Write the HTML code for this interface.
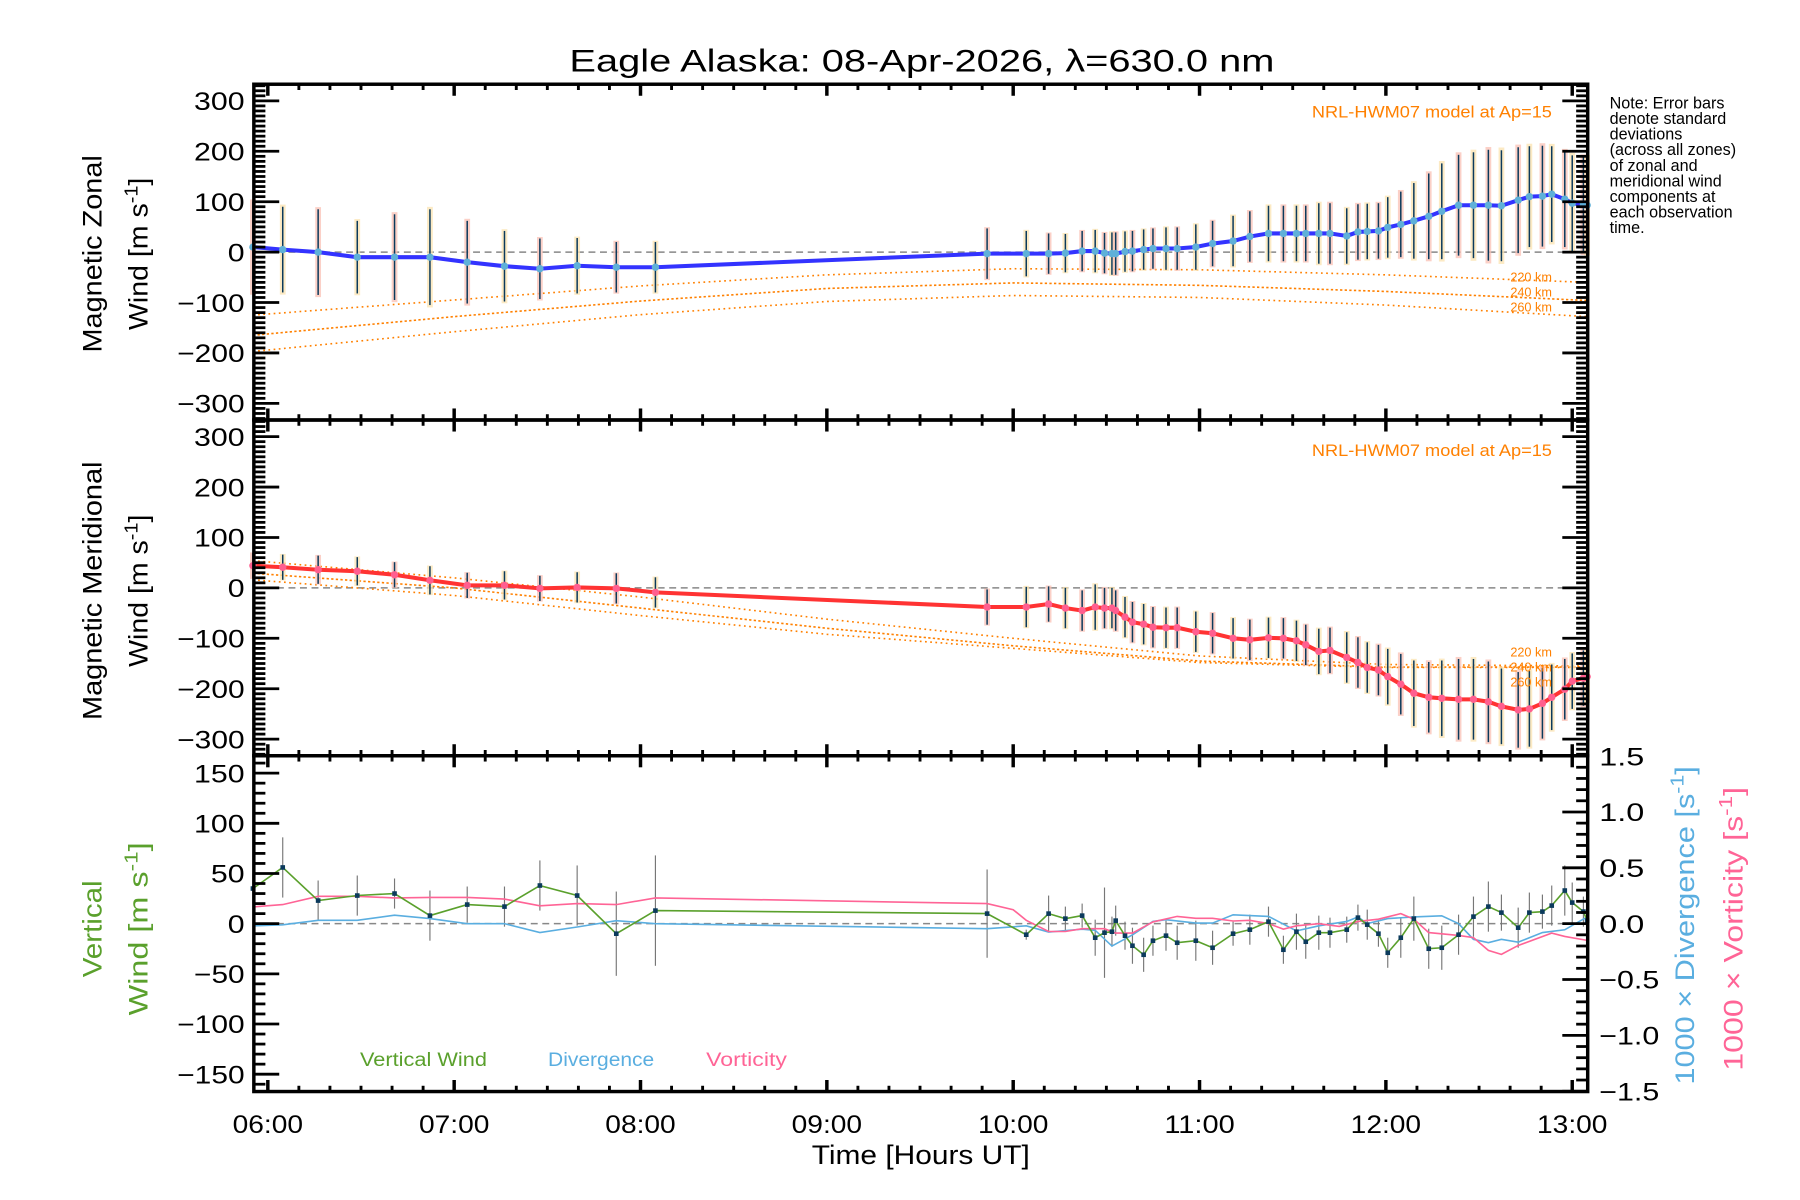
<!DOCTYPE html>
<html><head><meta charset="utf-8"><style>
html,body{margin:0;padding:0;background:#fff;}
svg{display:block;}
text{font-family:"Liberation Sans",sans-serif;}
</style></head><body>
<svg id="chart" width="1800" height="1200" viewBox="0 0 1560 1040" xmlns="http://www.w3.org/2000/svg">
<rect x="0" y="0" width="1560" height="1040" fill="#fff"/>
<text x="799" y="62" font-size="27" text-anchor="middle" textLength="611" lengthAdjust="spacingAndGlyphs">Eagle Alaska: 08-Apr-2026, λ=630.0 nm</text>
<g id="g"></g>
<text font-size="14" x="1395" y="94"><tspan x="1395" dy="0">Note: Error bars</tspan><tspan x="1395" dy="13.5">denote standard</tspan><tspan x="1395" dy="13.5">deviations</tspan><tspan x="1395" dy="13.5">(across all zones)</tspan><tspan x="1395" dy="13.5">of zonal and</tspan><tspan x="1395" dy="13.5">meridional wind</tspan><tspan x="1395" dy="13.5">components at</tspan><tspan x="1395" dy="13.5">each observation</tspan><tspan x="1395" dy="13.5">time.</tspan></text>
</svg>
<script>
// ---- data ----
const times = [5.92,6.08,6.27,6.48,6.68,6.87,7.07,7.27,7.46,7.66,7.87,8.08,9.86,
10.07,10.19,10.28,10.37,10.44,10.49,10.53,10.55,10.60,10.64,10.70,10.75,10.82,10.88,10.98,11.07,11.18,11.27,11.37,11.45,11.52,11.57,11.64,11.70,11.79,11.85,11.90,11.96,12.01,12.08,12.15,12.23,12.30,12.39,12.47,12.55,12.62,12.71,12.77,12.84,12.89,12.96,13.00,13.06,13.08];
const zonal = [10,5,0,-10,-10,-10,-20,-28,-33,-27,-30,-30,-3,
-3,-3,-2,2,2,-2,-3,-3,1,2,5,7,7,7,10,17,22,31,37,37,37,37,37,37,32,40,41,42,49,55,62,71,81,93,93,93,92,103,110,111,115,105,97,94,93];
const zonalSd = [90,85,85,72,85,95,82,70,60,55,50,50,50,
45,40,38,40,42,40,42,42,40,40,40,40,42,42,45,45,50,50,55,55,55,55,60,60,55,55,55,55,60,65,75,85,95,100,105,110,110,105,100,100,95,95,95,95,95];
const merid = [44,41,36,33,26,15,5,5,-1,1,-1,-9,-38,
-38,-32,-40,-45,-38,-40,-40,-45,-58,-68,-72,-78,-79,-79,-87,-90,-100,-103,-99,-100,-105,-113,-126,-124,-138,-148,-158,-163,-176,-191,-209,-217,-219,-221,-221,-226,-235,-242,-240,-229,-217,-201,-185,-179,-176];
const meridSd = [25,25,28,28,25,28,25,28,25,30,30,30,35,
40,35,40,40,45,40,40,40,40,40,40,40,40,40,40,40,40,40,40,40,40,40,45,45,50,50,50,50,55,60,65,70,75,80,80,80,75,75,75,70,65,60,55,55,50];
const vert = [35,56,23,28,30,8,19,17,38,28,-10,13,10,
-11,10,5,8,-14,-9,-8,3,-12,-22,-31,-17,-12,-19,-17,-24,-10,-6,2,-26,-8,-18,-9,-9,-6,6,-1,-10,-29,-14,5,-25,-24,-11,7,17,11,-4,11,12,18,33,21,12,3];
const vertSd = [15,30,20,20,15,25,18,20,25,30,42,55,44,
5,18,12,12,18,45,15,15,14,18,17,15,15,17,20,17,12,15,15,14,18,17,17,15,13,13,15,13,15,20,22,20,22,20,20,25,18,20,20,17,20,25,20,15,12];
const divT = [5.92,6.08,6.27,6.48,6.68,6.87,7.07,7.27,7.46,7.66,7.87,8.08,9.86,10.07,10.19,10.37,10.44,10.53,10.64,10.75,10.82,10.98,11.07,11.18,11.37,11.52,11.64,11.79,11.85,11.90,12.01,12.15,12.30,12.39,12.47,12.55,12.62,12.71,12.84,12.96,13.08];
const divV = [-0.02,-0.01,0.03,0.03,0.075,0.045,0,0,-0.08,-0.03,0.027,0,-0.045,-0.02,-0.075,-0.05,-0.06,-0.2,-0.1,0.02,0.035,0.005,0.005,0.08,0.065,-0.065,-0.02,0.02,0.06,0,0.045,0.06,0.07,0,-0.14,-0.17,-0.14,-0.165,-0.08,-0.055,0.06];
const vorT = [5.92,6.08,6.27,6.48,6.68,6.87,7.07,7.27,7.46,7.66,7.87,8.08,9.86,10.0,10.07,10.19,10.28,10.37,10.49,10.55,10.64,10.75,10.88,10.98,11.07,11.18,11.27,11.37,11.45,11.52,11.64,11.75,11.85,11.96,12.08,12.15,12.23,12.39,12.47,12.55,12.62,12.71,12.89,12.96,13.08];
const vorV = [0.15,0.17,0.245,0.245,0.23,0.235,0.235,0.22,0.16,0.18,0.17,0.23,0.18,0.125,0.03,-0.07,-0.07,-0.045,-0.045,-0.085,-0.085,0.015,0.065,0.048,0.048,0.024,0.03,0,-0.05,-0.02,0,-0.025,0.02,0.04,0.09,0.04,-0.08,-0.105,-0.125,-0.24,-0.275,-0.195,-0.085,-0.115,-0.15];
const modelT = [5.92,7,8,9,10,11,12,13.08];
const zon220 = [-125,-95,-67,-45,-33,-35,-45,-60];
const zon240 = [-165,-128,-97,-72,-61,-66,-78,-96];
const zon260 = [-197,-158,-124,-98,-86,-90,-105,-128];
const mer220 = [54,20,-18,-62,-100,-135,-152,-155];
const mer240 = [29,0,-40,-80,-115,-145,-157,-157];
const mer260 = [16,-15,-55,-92,-120,-148,-158,-158];
const xTicks = ['06:00','07:00','08:00','09:00','10:00','11:00','12:00','13:00'];
const windTicks = [300,200,100,0,-100,-200,-300];
const vertTicks = [150,100,50,0,-50,-100,-150];
const rightTicks = ['1.5','1.0','0.5','0.0','-0.5','-1.0','-1.5'];

// ---- layout ----
const NS='http://www.w3.org/2000/svg';
const G=document.getElementById('g');
const X0=220,X1=1376,T0=5.925,T1=13.083;
const P=[{top:73,bot:364},{top:364,bot:655},{top:655,bot:946}];
function x(t){return X0+(t-T0)/(T1-T0)*(X1-X0);}
function mkY(p,half){const mid=(p.top+p.bot)/2,h=(p.bot-p.top)/2;return v=>mid-v/half*h;}
const yZ=mkY(P[0],333),yM=mkY(P[1],333),yV=mkY(P[2],167.3),yR=mkY(P[2],1.503);
function el(tag,attrs,parent){const e=document.createElementNS(NS,tag);for(const k in attrs)e.setAttribute(k,attrs[k]);(parent||G).appendChild(e);return e;}
function txt(s,attrs,parent){const e=el('text',attrs,parent);e.textContent=s;return e;}
function poly(ts,vs,yf,attrs){return el('polyline',Object.assign({points:ts.map((t,i)=>x(t).toFixed(1)+','+yf(vs[i]).toFixed(1)).join(' '),fill:'none'},attrs));}
const numLabel=s=>s.replace('-','−');

// zero dashed lines
[[yZ,0],[yM,1],[yV,2]].forEach(([yf,i])=>{
  const l=el('line',{x1:X0,x2:X1,y1:yf(0),y2:yf(0),stroke:'#888','stroke-width':1.3,'stroke-dasharray':'6,4'});
  
  
});

// model lines
function model(vals,yf,name,dash){
  const l=poly(modelT,vals,yf,{stroke:'#ff8000','stroke-width':1.4,'stroke-dasharray':dash});
  
  
}
model(zon220,yZ,'zonal-model-220km','1.5,3');model(zon240,yZ,'zonal-model-240km','2,2');model(zon260,yZ,'zonal-model-260km','1.5,3');
model(mer220,yM,'merid-model-220km','1.5,3');model(mer240,yM,'merid-model-240km','2,2');model(mer260,yM,'merid-model-260km','1.5,3');

// wind panels
function windPanel(vals,sd,yf,line,dot,name){
  times.forEach((t,i)=>{
    const xc=x(t);
    const bg=el('rect',{x:xc-2.5,y:yf(vals[i]+sd[i]*1.05),width:5,height:yf(vals[i]-sd[i]*1.05)-yf(vals[i]+sd[i]*1.05),fill:i%2?'#fbe3b0':'#f9c0b4',opacity:0.75});
    
    
    const e=el('line',{x1:xc,x2:xc,y1:yf(vals[i]+sd[i]),y2:yf(vals[i]-sd[i]),stroke:'#0b3a5c','stroke-width':1.3});
    
    
  });
  const l=poly(times,vals,yf,{stroke:line,'stroke-width':3.5});
  
  
  times.forEach((t,i)=>{
    const c=el('circle',{cx:x(t),cy:yf(vals[i]),r:3.2,fill:dot});
    
    
  });
}
windPanel(zonal,zonalSd,yZ,'#3333ff','#5fb0d8','zonal');
windPanel(merid,meridSd,yM,'#ff3333','#ff5f8f','merid');

// bottom panel
times.forEach((t,i)=>{
  const e=el('line',{x1:x(t),x2:x(t),y1:yV(vert[i]+vertSd[i]),y2:yV(vert[i]-vertSd[i]),stroke:'#777','stroke-width':1});
  
  
});
let l=poly(divT,divV,yR,{stroke:'#5aaee0','stroke-width':1.4});


l=poly(vorT,vorV,yR,{stroke:'#ff6496','stroke-width':1.4});


l=poly(times,vert,yV,{stroke:'#5aa02c','stroke-width':1.4});


times.forEach((t,i)=>{
  const r=el('rect',{x:x(t)-2,y:yV(vert[i])-2,width:4,height:4,fill:'#0b3a5c'});
  
  
});

// frames and ticks
P.forEach((p,pi)=>{
  const f=el('rect',{x:X0,y:p.top,width:X1-X0,height:p.bot-p.top,fill:'none',stroke:'#000','stroke-width':3});
  
  
  for(let m=0;m<=42;m++){
    const t=6+m/6;if(t>T1)break;
    const len=m%6===0?10:5;
    el('line',{x1:x(t),x2:x(t),y1:p.bot,y2:p.bot-len,stroke:'#000','stroke-width':m%6===0?3:2.5});
    el('line',{x1:x(t),x2:x(t),y1:p.top,y2:p.top+len,stroke:'#000','stroke-width':m%6===0?3:2.5});
  }
});
function yTicks(yf,lo,hi,step,majorEvery,majLen,minLen,side,p){
  for(let v=lo;v<=hi+1e-9;v+=step){
    const yy=yf(v);if(yy<p.top-0.5||yy>p.bot+0.5)continue;
    const maj=Math.abs(Math.round(v/majorEvery)*majorEvery-v)<1e-6;
    const len=maj?majLen:minLen;
    if(side==='L'||side==='B')el('line',{x1:X0,x2:X0+len,y1:yy,y2:yy,stroke:'#000','stroke-width':2.4});
    if(side==='R'||side==='B')el('line',{x1:X1,x2:X1-len,y1:yy,y2:yy,stroke:'#000','stroke-width':2.4});
  }
}
yTicks(yZ,-330,330,10,100,22,10,'B',P[0]);
yTicks(yM,-330,330,10,100,22,10,'B',P[1]);
yTicks(yV,-160,160,10,50,22,10,'L',P[2]);
yTicks(yR,-1.5,1.5,0.1,0.5,22,10,'R',P[2]);

// tick labels
windTicks.forEach(v=>{
  [yZ,yM].forEach((yf,i)=>{
    const s=numLabel(String(v));
    const t=txt(s,{x:212,y:yf(v)+8,'font-size':22,'text-anchor':'end',textLength:s.length*14.6,lengthAdjust:'spacingAndGlyphs'});
    
    
  });
});
vertTicks.forEach(v=>{
  const s=numLabel(String(v));
  const t=txt(s,{x:212,y:yV(v)+8,'font-size':22,'text-anchor':'end',textLength:s.length*14.6,lengthAdjust:'spacingAndGlyphs'});
  
  
});
rightTicks.forEach(s=>{
  const v=parseFloat(s);s=numLabel(s);
  const t=txt(s,{x:1386,y:yR(v)+8,'font-size':22,textLength:s.length*13,lengthAdjust:'spacingAndGlyphs'});
  
  
});
xTicks.forEach((s,i)=>{
  const t=txt(s,{x:x(6+i),y:982,'font-size':22,'text-anchor':'middle',textLength:61,lengthAdjust:'spacingAndGlyphs'});
  
  
});

// axis titles
function vtitle(s,cx,cy,len,color,name){
  const t=el('text',{transform:'translate('+cx+','+cy+') rotate(-90)','font-size':23,'text-anchor':'middle',fill:color,textLength:len,lengthAdjust:'spacingAndGlyphs'});
  t.innerHTML=s;
  
  
}
vtitle('Magnetic Zonal',88,220,171,'#000','zonal-y-title-line1');
vtitle('Wind [m s<tspan dy="-9" font-size="16">-1</tspan><tspan dy="9">]</tspan>',128,220,132,'#000','zonal-y-title-line2');
vtitle('Magnetic Meridional',88,512,224,'#000','merid-y-title-line1');
vtitle('Wind [m s<tspan dy="-9" font-size="16">-1</tspan><tspan dy="9">]</tspan>',128,512,132,'#000','merid-y-title-line2');
vtitle('Vertical',88,805,84,'#5aa02c','vertical-y-title-line1');
vtitle('Wind [m s<tspan dy="-9" font-size="16">-1</tspan><tspan dy="9">]</tspan>',128,805,150,'#5aa02c','vertical-y-title-line2');
vtitle('1000 × Divergence [s<tspan dy="-9" font-size="16">-1</tspan><tspan dy="9">]</tspan>',1468,802,276,'#5aaee0','divergence-axis-title');
vtitle('1000 × Vorticity [s<tspan dy="-9" font-size="16">-1</tspan><tspan dy="9">]</tspan>',1510,805,246,'#ff6496','vorticity-axis-title');
let tt=txt('Time [Hours UT]',{x:798,y:1009,'font-size':23,'text-anchor':'middle',textLength:189,lengthAdjust:'spacingAndGlyphs'});



// annotations
[['NRL-HWM07 model at Ap=15',1345,102,'zonal-model-note'],['NRL-HWM07 model at Ap=15',1345,395,'merid-model-note']].forEach(a=>{
  const t=txt(a[0],{x:a[1],y:a[2],'font-size':14,'text-anchor':'end',fill:'#ff8000',textLength:208,lengthAdjust:'spacingAndGlyphs'});
  
  
});
[['220 km',244],['240 km',257],['260 km',270],['220 km',569],['240 km',582],['260 km',595]].forEach(a=>{
  const t=txt(a[0],{x:1345,y:a[1],'font-size':11,'text-anchor':'end',fill:'#ff8000'});
  
  
});
[['Vertical Wind',312,'#5aa02c',110],['Divergence',475,'#5aaee0',92],['Vorticity',612,'#ff6496',70]].forEach(a=>{
  const t=txt(a[0],{x:a[1],y:924,'font-size':17,fill:a[2],textLength:a[3],lengthAdjust:'spacingAndGlyphs'});
  
  
});
</script>
</body></html>
